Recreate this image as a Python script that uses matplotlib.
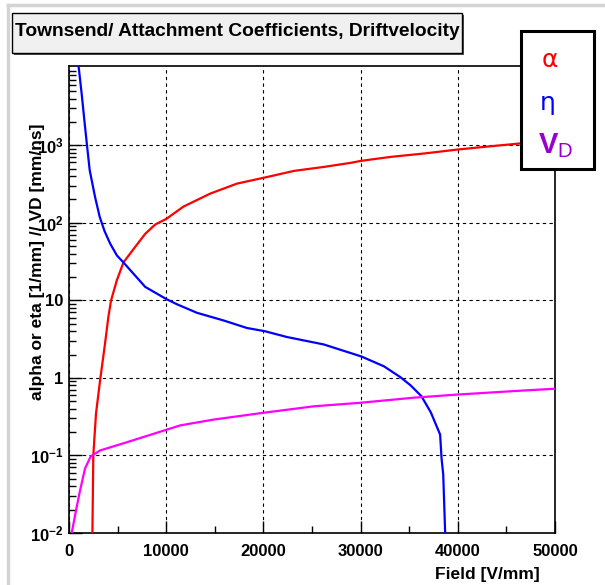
import matplotlib
matplotlib.use("Agg")
import matplotlib.pyplot as plt
from matplotlib.patches import Rectangle
from matplotlib.lines import Line2D
from matplotlib.ticker import FixedLocator, FuncFormatter, LogLocator, MultipleLocator

# Fonts: Helvetica-like bold everywhere, like the ROOT canvas
plt.rcParams['font.family'] = ['Liberation Sans', 'DejaVu Sans']
plt.rcParams['mathtext.fontset'] = 'custom'
plt.rcParams['mathtext.rm'] = 'Liberation Sans'
plt.rcParams['mathtext.bf'] = 'Liberation Sans:bold'
plt.rcParams['mathtext.it'] = 'Liberation Sans:italic'

# Data (field in V/mm)
alpha_field = [2400, 2500, 2780, 3200, 3710, 4050, 4330, 4920, 5600, 6800, 7840,
               8870, 10000, 11790, 14540, 17290, 20140, 23130, 26220, 28970,
               30000, 33100, 36530, 40000, 43400, 46300, 50000]
alpha_value = [0.008, 0.1, 0.35, 0.93, 2.8, 6.1, 10.0, 18.1, 30.8, 48.7, 72,
               95, 112, 162, 238, 320, 383, 466, 525, 592,
               627, 707, 782, 880, 970, 1050, 1150]

eta_field = [900, 1300, 1580, 1850, 2130, 2680, 3160, 3640, 4230, 4920, 5600,
             7840, 10000, 11100, 13170, 15900, 18300, 20140, 22440, 26200,
             30070, 32400, 34100, 35150, 36260, 37220, 38180, 38330, 38500,
             38700, 38800]
eta_value = [13000, 4640, 2100, 1000, 476, 215, 119, 79, 54, 38, 30.8,
             14.9, 10.4, 8.9, 6.9, 5.5, 4.4, 4.0, 3.36, 2.7,
             1.89, 1.41, 1.02, 0.8, 0.58, 0.36, 0.186, 0.091, 0.057,
             0.01, 0.005]

vd_field = [280, 720, 1130, 1650, 2230, 3200, 5950, 10000, 11440, 14880,
            20000, 25190, 30000, 35500, 40000, 45800, 50000]
vd_value = [0.01, 0.0195, 0.035, 0.068, 0.097, 0.116, 0.148, 0.214, 0.244, 0.29,
            0.355, 0.43, 0.478, 0.556, 0.61, 0.676, 0.725]

x_ticks = [0, 10000, 20000, 30000, 40000, 50000]
y_ticks = [1e-2, 1e-1, 1, 10, 1e2, 1e3]
y_tick_labels = [r'$\mathbf{10^{-2}}$', r'$\mathbf{10^{-1}}$', '1', '10',
                 r'$\mathbf{10^{2}}$', r'$\mathbf{10^{3}}$']

W, H = 605, 585
fig = plt.figure(figsize=(W / 100, H / 100), dpi=100)
fig.patch.set_facecolor('white')


def fx(px):
    return px / W


def fy(py):
    return 1 - py / H


# Axes frame in pixels: left 69, right 555, top 66, bottom 533
ax = fig.add_axes([fx(69), fy(533), fx(555) - fx(69), fy(66) - fy(533)])
ax.set_yscale('log')
ax.set_xlim(0, 50000)
ax.set_ylim(1e-2, 1.05e4)

ax.plot(alpha_field, alpha_value, color='#ff0000', lw=1.6, zorder=3)
ax.plot(eta_field, eta_value, color='#0000ff', lw=1.6, zorder=3)
ax.plot(vd_field, vd_value, color='#ff00ff', lw=1.6, zorder=3)

# Ticks: ROOT style, inside, only left and bottom
ax.xaxis.set_major_locator(FixedLocator(x_ticks))
ax.xaxis.set_minor_locator(MultipleLocator(5000))
ax.yaxis.set_major_locator(FixedLocator(y_ticks))
ax.yaxis.set_minor_locator(LogLocator(base=10, subs=range(2, 10), numticks=20))
ax.yaxis.set_major_formatter(FuncFormatter(
    lambda v, pos: y_tick_labels[y_ticks.index(v)] if v in y_ticks else ''))
ax.xaxis.set_major_formatter(FuncFormatter(lambda v, pos: '%d' % v))
ax.yaxis.set_minor_formatter(FuncFormatter(lambda v, pos: ''))
ax.tick_params(which='both', direction='in', top=False, right=False, color='black')
ax.tick_params(which='major', length=9, width=1)
ax.tick_params(which='minor', length=5, width=1)
ax.tick_params(axis='x', which='major', labelsize=12, pad=8)
ax.tick_params(axis='y', which='major', labelsize=12, pad=4)
for lab in ax.get_xticklabels() + ax.get_yticklabels():
    lab.set_fontweight('bold')

ax.grid(True, which='major', color='black', linestyle=(0, (3, 3)), lw=0.8)
for s in ax.spines.values():
    s.set_linewidth(1.2)

# Axis titles
fig.text(fx(540), fy(574), 'Field [V/mm]', ha='right', va='center',
         fontsize=12.5, fontweight='bold')
fig.text(fx(38), fy(262), 'alpha or eta [1/mm] // VD [mm/ns]', ha='center',
         va='center', rotation=90, fontsize=12.5, fontweight='bold')

# Light gray canvas border at top and left
fig.add_artist(Line2D([fx(8), fx(W)], [fy(5), fy(5)], color='#d4d4d4', lw=2.5))
fig.add_artist(Line2D([fx(8), fx(8)], [fy(5), fy(H)], color='#d4d4d4', lw=2.5))

# Title box with shadow
fig.add_artist(Rectangle((fx(14), fy(54.5)), fx(450), fy(0) - fy(40),
                         facecolor='#505050', edgecolor='none', zorder=5))
fig.add_artist(Rectangle((fx(12), fy(52.5)), fx(450), fy(0) - fy(40),
                         facecolor='#f0f0f0', edgecolor='black', lw=1, zorder=6))
fig.text(fx(237), fy(32), 'Townsend/ Attachment Coefficients, Driftvelocity',
         ha='center', va='center', fontsize=13.8, fontweight='bold', zorder=7)

# Legend box
fig.add_artist(Rectangle((fx(521), fy(169)), fx(73), fy(0) - fy(137.5),
                         facecolor='white', edgecolor='black', lw=2.2, zorder=6))
fig.text(fx(550), fy(60), 'α', ha='center', va='center', fontsize=18,
         color='#ff0000', zorder=7, family='DejaVu Sans')
fig.text(fx(548), fy(103), 'η', ha='center', va='center', fontsize=18,
         color='#0000ff', zorder=7, family='DejaVu Sans')
fig.text(fx(556), fy(146), r'$\mathbf{V}_{\mathrm{D}}$', ha='center', va='center',
         fontsize=21, color='#9900cc', zorder=7)

fig.savefig('out.png', dpi=100)
